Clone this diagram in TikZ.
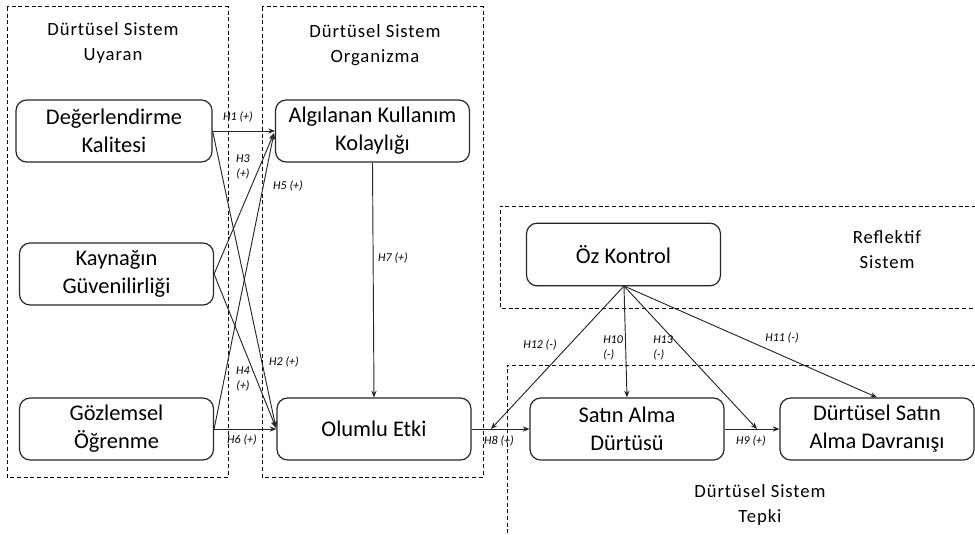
\documentclass[tikz,border=0pt]{standalone}
\usepackage{fontspec}
\setmainfont{Carlito}
\usetikzlibrary{arrows.meta}
\begin{document}
\begin{tikzpicture}[x=0.75pt,y=-0.75pt,
  box/.style={draw=black!85,line width=0.9pt,rounded corners=8pt,minimum width=145.5pt,minimum height=46.5pt,inner sep=0pt,align=center,font=\fontsize{16.8}{21}\selectfont},
  grp/.style={draw=black,line width=0.75pt,dash pattern=on 3pt off 2pt},
  grplbl/.style={align=center,font=\fontsize{14}{18.75}\selectfont\addfontfeatures{LetterSpace=5}},
  hl/.style={font=\fontsize{9}{11.5}\selectfont\itshape,align=left,inner sep=0pt},
  arr/.style={draw=black!85,line width=0.7pt,-{Stealth[length=5pt,width=4pt]}}]
\useasboundingbox (0,0) rectangle (975,535);
% groups
\draw[grp] (7,7) rectangle (228,477);
\draw[grp] (262,7) rectangle (483,477);
\draw[grp] (976,206) -- (500,206) -- (500,308) -- (976,308);
\draw[grp] (976,365) -- (507,365) -- (507,540);
\node[grplbl] (g1) at (113,43) {Dürtüsel Sistem\\Uyaran};
\node[grplbl] (g2) at (375,45) {Dürtüsel Sistem\\Organizma};
\node[grplbl] (g3) at (887,250) {Reflektif\\Sistem};
\node[grplbl] (g4) at (760,505) {Dürtüsel Sistem\\Tepki};
% boxes
\node[box,minimum width=147pt] (dk) at (114,131) {Değerlendirme\\Kalitesi};
\node[box] (kg) at (116.5,274) {Kaynağın\\Güvenilirliği};
\node[box] (go) at (116.5,429) {Gözlemsel\\Öğrenme};
\node[box] (akk) at (372.5,131) {Algılanan Kullanım\\Kolaylığı};
\node[box] (oe) at (374,429) {Olumlu Etki};
\node[box,minimum height=47pt] (ok) at (623.5,254.5) {Öz Kontrol};
\node[box] (sad) at (627,429) {Satın Alma\\Dürtüsü};
\node[box] (dsad) at (877,429) {Dürtüsel Satın\\Alma Davranışı};
% helper coordinates
\coordinate (akkin) at (274,133);
\coordinate (oein) at (276,428);
\coordinate (okout) at (624,286);
\coordinate (h12e) at (491,429);
\coordinate (h13e) at (757,429);
% arrows
\draw[arr] (dk.east) -- (akk.west);
\draw[arr] (dk.east) -- (oein);
\draw[arr] (kg.east) -- (akkin);
\draw[arr] (kg.east) -- (oein);
\draw[arr] (go.east) -- (akkin);
\draw[arr] (go.east) -- (oe.west);
\draw[arr] (akk.south) -- (oe.north);
\draw[arr] (oe.east) -- (sad.west);
\draw[arr] (sad.east) -- (dsad.west);
\draw[arr] (okout) -- (h12e);
\draw[arr] (okout) -- (sad.north);
\draw[arr] (okout) -- (h13e);
\draw[arr] (okout) -- (dsad.north);
% labels
\node[hl] (l1) at (238,117) {H1 (+)};
\node[hl,align=center] (l3) at (243,167) {H3\\(+)};
\node[hl] (l5) at (288,186) {H5 (+)};
\node[hl] (l2) at (284,362) {H2 (+)};
\node[hl,align=center] (l4) at (243,379) {H4\\(+)};
\node[hl] (l6) at (242,440) {H6 (+)};
\node[hl] (l7) at (393,258) {H7 (+)};
\node[hl] (l8) at (499,441) {H8 (+)};
\node[hl] (l9) at (751,441) {H9 (+)};
\node[hl] (l12) at (540,345) {H12 (-)};
\node[hl,anchor=west] (l10) at (603,348) {H10\\(-)};
\node[hl,anchor=west] (l13) at (653,348) {H13\\(-)};
\node[hl] (l11) at (782,338) {H11 (-)};
\end{tikzpicture}
\end{document}
